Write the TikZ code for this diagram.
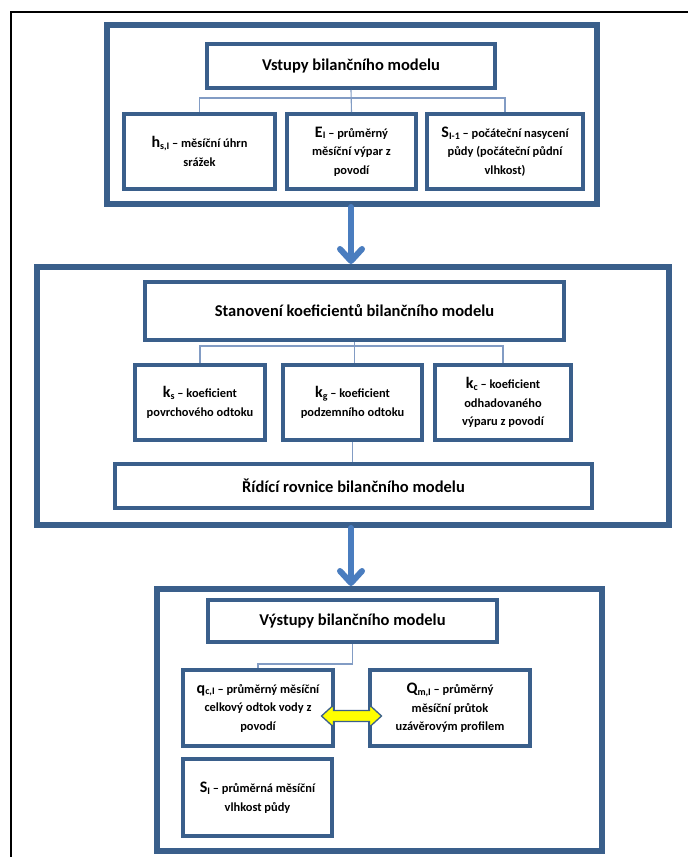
\documentclass[tikz,border=0pt]{standalone}
\usepackage{fontspec}
\setmainfont{Carlito}
\usetikzlibrary{arrows.meta,calc}
\definecolor{boxblue}{RGB}{58,95,139}
\definecolor{arrblue}{RGB}{74,125,191}
\definecolor{connblue}{RGB}{130,156,196}
\definecolor{dblyellow}{RGB}{255,255,0}
\newcommand{\sym}[2]{{\fontsize{16}{16}\selectfont #1}{\fontsize{10}{10}\selectfont\raisebox{-0.35ex}{#2}}}
\tikzset{
  outerbox/.style={draw=boxblue, line width=6pt, fill=white},
  innerbox/.style={draw=boxblue, line width=4pt, fill=white, align=center, inner sep=2pt,
    font=\fontsize{12.4}{18.5}\selectfont\bfseries, text=black},
  titlebox/.style={innerbox, font=\fontsize{16.5}{18}\selectfont\bfseries},
  conn/.style={draw=connblue, line width=1.1pt},
  bigarrow/.style={draw=arrblue, line width=6pt, line cap=round, line join=round,
    -{Straight Barb[length=12pt,width=22pt,line cap=round,line join=round]}},
  dblarrow/.style={fill=dblyellow, draw=boxblue, line width=1.3pt, line join=miter},
}
\begin{document}
\begin{tikzpicture}[x=1pt,y=-1pt]
\useasboundingbox (0,0) rectangle (688,857);
\fill[white] (0,0) rectangle (688,857);
\draw[line width=2pt] (700,12) -- (11,12) -- (11,870);

% ---- top block
\node[outerbox, minimum width=490pt, minimum height=179pt] (b1) at (352,114.5) {};
\node[titlebox, minimum width=288pt, minimum height=44pt] (t1) at (351,66) {Vstupy bilančního modelu};
\node[innerbox, minimum width=151pt, minimum height=75pt] (a1) at (199.5,151.5)
  {\sym{h}{s,I} – měsíční úhrn\\srážek};
\node[innerbox, minimum width=129pt, minimum height=75pt] (a2) at (351.5,151.5)
  {\sym{E}{I} – průměrný\\měsíční výpar z\\povodí};
\node[innerbox, minimum width=156pt, minimum height=75pt] (a3) at (505,151.5)
  {\sym{S}{I-1} – počáteční nasycení\\půdy (počáteční půdní\\vlhkost)};
\draw[conn] (t1.south) -- (a2.north);
\draw[conn] (a1.north) -- ++(0,-14) -| (a3.north);

% ---- middle block
\node[outerbox, minimum width=632pt, minimum height=258pt] (b2) at (353,396) {};
\node[titlebox, minimum width=419pt, minimum height=58pt] (t2) at (354.5,311)
  {Stanovení koeficientů bilančního modelu};
\node[innerbox, minimum width=130pt, minimum height=75pt] (k1) at (200,402.5)
  {\sym{k}{s} – koeficient\\povrchového odtoku};
\node[innerbox, minimum width=139pt, minimum height=75pt] (k2) at (352.5,402.5)
  {\sym{k}{g} – koeficient\\podzemního odtoku};
\node[innerbox, minimum width=136pt, minimum height=75pt] (k3) at (503,402.5)
  {\sym{k}{c} – koeficient\\odhadovaného\\výparu z povodí};
\node[titlebox, minimum width=477pt, minimum height=44pt] (r) at (353.5,486)
  {Řídící rovnice bilančního modelu};
\draw[conn] (t2.south) -- (t2.south |- k2.north);
\draw[conn] (k1.north) -- ++(0,-17) -| (k3.north);
\draw[conn] (k2.south) -- (k2.south |- r.north);

% ---- bottom block
\node[outerbox, minimum width=445pt, minimum height=262pt] (b3) at (379.5,720) {};
\node[titlebox, minimum width=289pt, minimum height=42pt] (t3) at (352.5,621)
  {Výstupy bilančního modelu};
\node[innerbox, minimum width=150pt, minimum height=76pt] (q1) at (258,708)
  {\sym{q}{c,I} – průměrný měsíční\\celkový odtok vody z\\povodí};
\node[innerbox, minimum width=160pt, minimum height=76pt] (q2) at (450,708)
  {\sym{Q}{m,I} – průměrný\\měsíční průtok\\uzávěrovým profilem};
\node[innerbox, minimum width=149pt, minimum height=77pt] (s1) at (257.5,797.5)
  {\sym{S}{I} – průměrná měsíční\\vlhkost půdy};
\draw[conn] (t3.south) -- ++(0,20) -| (q1.north);

% double arrow between q1 and q2
\coordinate (dc) at ($(q1.east)!0.5!(q2.west)+(0,8)$);
\draw[dblarrow] ($(dc)+(-30,0)$) -- ++(12,-11) -- ++(0,5.5) -- ++(36,0) -- ++(0,-5.5)
  -- ++(12,11) -- ++(-12,11) -- ++(0,-5.5) -- ++(-36,0) -- ++(0,5.5) -- cycle;

% ---- big arrows
\draw[bigarrow] ([xshift=-1pt]b1.south) -- ([xshift=-1pt]b1.south |- b2.north);
\draw[bigarrow] ([xshift=-2pt]b2.south) -- ([xshift=-2pt]b2.south |- b3.north);
\end{tikzpicture}
\end{document}
